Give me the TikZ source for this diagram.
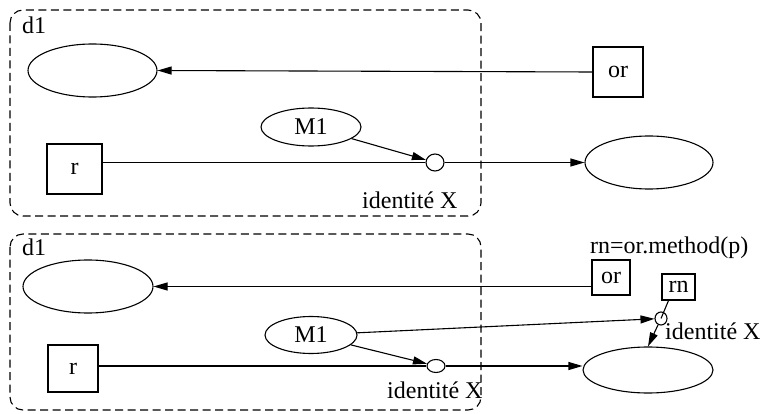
\documentclass[tikz,border=0pt]{standalone}
\usepackage{fontspec}
\setmainfont{Liberation Serif}
\usetikzlibrary{shapes.geometric,arrows.meta}
\begin{document}
\begin{tikzpicture}[x=1pt,y=-1pt,
  every node/.style={font=\fontsize{24}{28}\selectfont, inner sep=0pt},
  oval/.style={draw, ellipse, line width=1.1pt},
  sqbox/.style={draw, rectangle, line width=1.1pt},
  dot/.style={draw, ellipse, line width=1.1pt},
  cluster/.style={draw, line width=1.1pt, dash pattern=on 8pt off 4.5pt, rounded corners=13pt},
  edge/.style={line width=1.1pt},
  arr/.style={edge, -{Triangle[length=14pt,width=8pt]}},
  lbl/.style={anchor=base west}
]
\useasboundingbox (0,0) rectangle (765,414);

% ---- upper cluster ----
\draw[cluster] (10,10) rectangle (481,216);
\node[lbl] (d1a) at (22,34) {d1};
\node[oval, minimum width=129pt, minimum height=53pt] (e1) at (92.5,70.5) {};
\node[sqbox, minimum width=50pt, minimum height=50pt] (or1) at (618,72) {or};
\node[oval, minimum width=100pt, minimum height=38pt] (M1a) at (311,127) {M1};
\node[sqbox, minimum width=55pt, minimum height=50pt] (r1) at (74.5,169) {r};
\node[dot, minimum width=18pt, minimum height=17pt] (c1) at (435,162.5) {};
\node[oval, minimum width=128pt, minimum height=53pt] (e2) at (649,162.5) {};
\node[lbl] (idx1) at (362,208) {identité X};

\draw[arr] (or1.west) -- (e1.east);
\draw[edge] (r1.east |- c1.west) -- (c1.west);
\draw[arr] (M1a) -- (c1);
\draw[arr] (c1) -- (e2);

% ---- lower cluster ----
\draw[cluster] (10,234) rectangle (481,410);
\node[lbl] (d1b) at (22,255) {d1};
\node[oval, minimum width=130pt, minimum height=53pt] (e3) at (88,286.5) {};
\node[lbl] (rnl) at (590,253) {rn=or.method(p)};
\node[sqbox, minimum width=38pt, minimum height=35pt] (or2) at (611,277.5) {or};
\node[sqbox, minimum width=33pt, minimum height=26pt] (rn) at (678.5,287) {rn};
\node[dot, minimum width=12pt, minimum height=13pt] (c2) at (661,318.5) {};
\node[lbl] (idx2) at (665,339) {identité X};
\node[oval, minimum width=92pt, minimum height=37pt] (M1b) at (311,335) {M1};
\node[sqbox, minimum width=50pt, minimum height=47pt] (r2) at (73,368.5) {r};
\node[dot, minimum width=18pt, minimum height=13pt] (c3) at (436,366) {};
\node[oval, minimum width=130pt, minimum height=46pt] (e4) at (648,370) {};
\node[lbl] (idx3) at (387,398) {identité X};

\draw[arr] (or2.west |- e3.east) -- (e3.east);
\draw[edge] (r2.east |- c3.west) -- (c3.west);
\draw[arr] (c3.east) -- (c3.east -| e4.west);
\draw[arr] (M1b) -- (c3);
\draw[arr] (M1b) -- (c2);
\draw[edge] ([xshift=-10pt]rn.south) -- (c2.center);
\draw[arr] (c2) -- (e4.north);
\end{tikzpicture}
\end{document}
